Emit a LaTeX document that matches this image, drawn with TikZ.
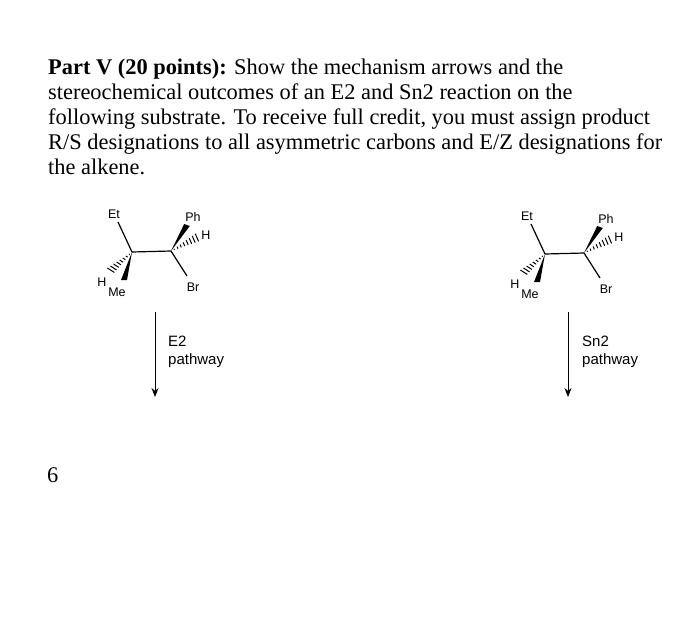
\documentclass[tikz,border=0pt]{standalone}
\usepackage{fontspec}
\usetikzlibrary{calc,arrows.meta}
\setmainfont{Liberation Serif}
\newfontfamily\arial{Liberation Sans}
\begin{document}
\begin{tikzpicture}[x=1pt,y=-1pt,
  txt/.style={anchor=base west,inner sep=0pt,font=\fontsize{22.4}{26}\selectfont},
  lab/.style={inner sep=0pt,font=\arial\fontsize{12.5}{14}\selectfont},
  plab/.style={inner sep=0pt,anchor=base west,font=\arial\fontsize{15}{18}\selectfont},
  bond/.style={line width=1.2pt},
  hashb/.style={line width=1pt},
  arr/.style={-{Stealth[length=9pt,width=7pt]},line width=0.9pt}]
\useasboundingbox (0,0) rectangle (700,619);
\fill[white] (0,0) rectangle (700,619);
\node[txt] (l1) at (48,74) {\textbf{Part V (20 points):} Show the mechanism arrows and the};
\node[txt] (l2) at (48,99) {stereochemical outcomes of an E2 and Sn2 reaction on the};
\node[txt] (l3) at (48,124) {following substrate. To receive full credit, you must assign product};
\node[txt] (l4) at (48,149) {R/S designations to all asymmetric carbons and E/Z designations for};
\node[txt] (l5) at (48,174) {the alkene.};
\node[txt] (six) at (47,482) {6};
\foreach \dx/\dy/\nm in {0/0/a,413/2/b}{
 \begin{scope}[shift={(\dx,\dy)}]
  \coordinate (\nm c1) at (132,252);
  \coordinate (\nm c2) at (171,251);
  \coordinate (\nm et) at (118,222);
  \coordinate (\nm ph) at (187,225);
  \coordinate (\nm h2) at (198,237);
  \coordinate (\nm br) at (187,276);
  \coordinate (\nm h1) at (110,271);
  \coordinate (\nm me) at (124,280);
  \node[lab] (\nm etl) at (114,214) {Et};
  \node[lab] (\nm phl) at (193,217) {Ph};
  \node[lab] (\nm h2l) at (206,235) {H};
  \node[lab] (\nm brl) at (193,287) {Br};
  \node[lab] (\nm h1l) at (102,282) {H};
  \node[lab] (\nm mel) at (117,292) {Me};
  \draw[bond] (\nm c1) -- (\nm c2);
  \draw[bond] (\nm c1) -- (\nm et);
  \draw[bond] (\nm c2) -- (\nm br);
  \fill ($(\nm c2)$) -- ($(\nm ph)+(-2.8,-1)$) -- ($(\nm ph)+(2.8,1)$) -- cycle;
  \fill ($(\nm c1)$) -- ($(\nm me)+(-3,0)$) -- ($(\nm me)+(3,0)$) -- cycle;
  \foreach \t in {0.12,0.24,...,1.0}{
    \draw[hashb] ($(\nm c2)!\t!(\nm h2)+(-\t*1.7,-\t*4)$) -- ($(\nm c2)!\t!(\nm h2)+(\t*1.7,\t*4)$);
    \draw[hashb] ($(\nm c1)!\t!(\nm h1)+(-\t*3.6,-\t*2.3)$) -- ($(\nm c1)!\t!(\nm h1)+(\t*3.6,\t*2.3)$);
  }
 \end{scope}}
\coordinate (s1) at (155,312); \coordinate (e1) at (155,397);
\coordinate (s2) at (568,312); \coordinate (e2) at (568,397);
\draw[arr] (s1) -- (e1);
\draw[arr] (s2) -- (e2);
\node[plab] (p1a) at (168,346) {E2};
\node[plab] (p1b) at (168,364) {pathway};
\node[plab] (p2a) at (582,346) {Sn2};
\node[plab] (p2b) at (582,364) {pathway};
\end{tikzpicture}
\end{document}
